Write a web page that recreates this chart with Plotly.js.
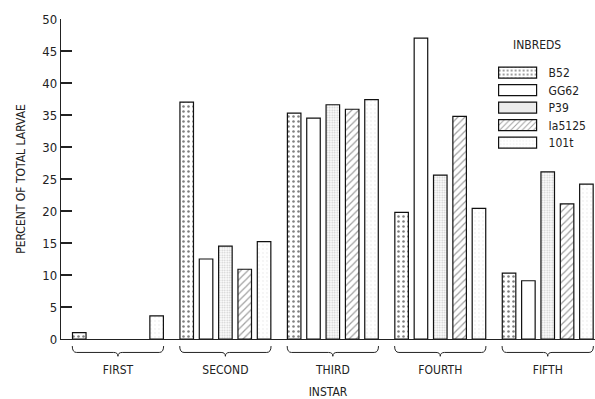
<!DOCTYPE html>
<html><head><meta charset="utf-8">
<script src="https://cdn.plot.ly/plotly-3.0.1.min.js"></script>
<style>html,body{margin:0;padding:0;background:#fff;}#chart{width:595px;height:399px;}</style>
</head><body><div id="chart"></div>
<script>
var instars = ['FIRST', 'SECOND', 'THIRD', 'FOURTH', 'FIFTH'];
var inbreds = ['B52', 'GG62', 'P39', 'Ia5125', '101t'];
var b52    = [1.0, 37.0, 35.3, 19.8, 10.3];
var gg62   = [0, 12.5, 34.5, 47.0, 9.1];
var p39    = [0, 14.5, 36.6, 25.6, 26.1];
var ia5125 = [0, 10.9, 35.9, 34.8, 21.1];
var t101   = [3.6, 15.2, 37.4, 20.4, 24.2];
var yTicks = [0, 5, 10, 15, 20, 25, 30, 35, 40, 45, 50];

var FONT = 'Liberation Sans Narrow, DejaVu Sans Condensed, Arial Narrow, sans-serif';
var series = [b52, gg62, p39, ia5125, t101];
var patterns = [
  {shape: '.', size: 5, solidity: 0.2, fgcolor: '#000', bgcolor: '#fff', fillmode: 'overlay'},
  {shape: '', fgcolor: '#fff', bgcolor: '#fff'},
  {shape: '.', size: 2.5, solidity: 0.4, fgcolor: '#999', bgcolor: '#fff', fillmode: 'overlay'},
  {shape: '/', size: 5, solidity: 0.25, fgcolor: '#444', bgcolor: '#fff', fillmode: 'overlay'},
  {shape: '.', size: 4, solidity: 0.1, fgcolor: '#ccc', bgcolor: '#fff', fillmode: 'overlay'}
];
var traces = inbreds.map(function (name, i) {
  return {
    type: 'bar', name: name, x: instars, y: series[i],
    marker: {color: '#fff',
      line: {color: '#111', width: series[i].map(function (v) { return v > 0 ? 1.2 : 0; })},
      pattern: patterns[i]},
    hoverinfo: 'skip'
  };
});

var xr = [-0.53, 4.44];
var shapes = instars.map(function (c, i) {
  var L = i - 0.425, R = i + 0.425, t = -0.022, m = -0.042, p = -0.054, d = 0.04;
  var path = 'M' + L + ',' + t + ' Q' + L + ',' + m + ' ' + (L + d) + ',' + m +
    ' L' + (i - d) + ',' + m + ' Q' + i + ',' + m + ' ' + i + ',' + p +
    ' Q' + i + ',' + m + ' ' + (i + d) + ',' + m +
    ' L' + (R - d) + ',' + m + ' Q' + R + ',' + m + ' ' + R + ',' + t;
  return {type: 'path', xref: 'x2', yref: 'paper', path: path, line: {color: '#222', width: 1}};
});

var layout = {
  width: 595, height: 399,
  margin: {l: 61, r: 0, t: 18.5, b: 59.5},
  paper_bgcolor: '#fff', plot_bgcolor: '#fff',
  font: {family: FONT, size: 12, color: '#222'},
  barmode: 'group', bargap: 0.1, bargroupgap: 0.3,
  showlegend: true,
  legend: {
    x: 0.812, y: 0.878, xanchor: 'left', yanchor: 'top',
    font: {family: FONT, size: 12}, itemwidth: 44,
    bgcolor: 'rgba(0,0,0,0)', tracegroupgap: 0
  },
  annotations: [{
    text: 'INBREDS', xref: 'paper', yref: 'paper', x: 0.891, y: (339.5 - 45) / 321,
    xanchor: 'center', yanchor: 'middle', showarrow: false, font: {family: FONT, size: 12}
  }],
  xaxis: {
    type: 'category', range: xr, showline: true, linecolor: '#222', linewidth: 1.2,
    ticks: 'outside', ticklen: 19, tickcolor: 'rgba(0,0,0,0)',
    showgrid: false, zeroline: false, tickfont: {family: FONT, size: 12},
    title: {text: 'INSTAR', standoff: 12, font: {family: FONT, size: 12}}
  },
  xaxis2: {overlaying: 'x', range: xr, visible: false, type: 'linear'},
  yaxis: {
    range: [0, 50], tickvals: yTicks, ticktext: yTicks.map(String),
    ticks: 'inside', ticklen: 11, tickcolor: '#222', tickwidth: 1.2,
    showline: true, linecolor: '#222', linewidth: 1.2,
    showgrid: false, zeroline: false, tickfont: {family: FONT, size: 13},
    title: {text: 'PERCENT OF TOTAL LARVAE', standoff: 14, font: {family: FONT, size: 12}}
  },
  shapes: shapes
};

Plotly.newPlot('chart', traces, layout, {staticPlot: true}).then(function (gd) {
  var pts = gd.querySelectorAll('.legend .legendpoints path');
  pts.forEach(function (p) {
    p.setAttribute('d', 'M15,5.5H-23V-5.5H15Z');
    p.style.stroke = '#111';
    p.style.strokeWidth = '1.2px';
  });
  var items = gd.querySelectorAll('.legend .traces');
  var y0 = null;
  items.forEach(function (g, k) {
    var m = /translate\(([-\d.]+),\s*([-\d.]+)\)/.exec(g.getAttribute('transform') || '');
    if (!m) return;
    if (y0 === null) y0 = parseFloat(m[2]);
    g.setAttribute('transform', 'translate(' + m[1] + ',' + (y0 + k * 17.5) + ')');
  });
});
</script></body></html>
